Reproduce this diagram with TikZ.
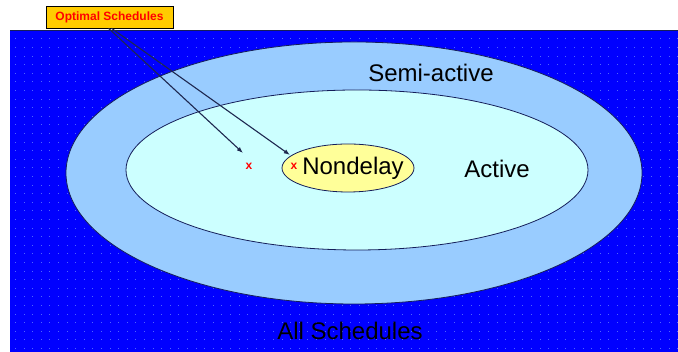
\documentclass[tikz,border=0pt]{standalone}
\usepackage{fontspec}
\setmainfont{Liberation Sans}
\usepackage{tikz}
\usetikzlibrary{
  shapes.geometric,
  arrows.meta,
  positioning
}
\definecolor{fieldcolor}{RGB}{0, 0, 255}
\definecolor{dotcolor}{RGB}{80, 100, 255}
\definecolor{semicolor}{RGB}{153, 204, 255}
\definecolor{activecolor}{RGB}{204, 255, 255}
\definecolor{nondelaycolor}{RGB}{255, 255, 153}
\definecolor{edgecolor}{RGB}{20, 30, 90}
\definecolor{tagcolor}{RGB}{255, 204, 0}
\definecolor{markcolor}{RGB}{255, 0, 0}
\definecolor{arrowcolor}{RGB}{30, 40, 80}
\tikzset{
setblock/.style={
  ellipse,
  draw=edgecolor,
  line width=0.8pt,
  inner sep=0pt
},
setlabel/.style={
  font=\fontsize{24}{28}\selectfont,
  text=black,
  align=center,
  inner sep=0pt
},
tagblock/.style={
  draw=black,
  line width=0.6pt,
  fill=tagcolor,
  minimum width=127pt,
  minimum height=22pt,
  inner sep=0pt,
  font=\bfseries\fontsize{12}{14}\selectfont,
  text=markcolor
},
marker/.style={
  font=\bfseries\fontsize{12}{12}\selectfont,
  text=markcolor,
  inner sep=0pt
},
arrow/.style={
  -{Latex[length=2.2mm,width=1.6mm]},
  line width=1.1pt,
  draw=arrowcolor
}
}
\begin{document}
\begin{tikzpicture}[x=1pt,y=1pt]
  \useasboundingbox (0,0) rectangle (678,352);
  % field of all schedules
  \fill[fieldcolor] (10,0) rectangle (678,322);
  \foreach \i in {0,...,77}
    \foreach \j in {0,...,36}
      \fill[dotcolor] ({15+8.6*\i},{3+8.6*\j}) rectangle ++(1,1);
  \draw[edgecolor, line width=0.8pt] (10,322) -- (678,322);

  \node[setblock, fill=semicolor, minimum width=576pt, minimum height=262pt] (semi) at (354,179) {};
  \node[setblock, fill=activecolor, minimum width=462pt, minimum height=160pt] (active) at (357,182) {};
  \node[setblock, fill=nondelaycolor, minimum width=132pt, minimum height=48pt] (nondelay) at (348,184) {};

  \node[setlabel] (nondelaytext) at (353,184) {Nondelay};
  \node[setlabel] (semitext) at (431,279) {Semi-active};
  \node[setlabel] (activetext) at (497,183) {Active};
  \node[setlabel] (alltext) at (350,21) {All Schedules};

  \node[marker] (optA) at (249,186) {x};
  \node[marker] (optB) at (294,186) {x};

  \node[tagblock] (optimal) at (109.5,335) {Optimal Schedules};
  \coordinate (endA) at (243,199);
  \coordinate (endB) at (290,197);
  \draw[arrow] ([xshift=-1pt]optimal.south) -- (endA);
  \draw[arrow] ([xshift=2pt]optimal.south) -- (endB);
\end{tikzpicture}
\end{document}
